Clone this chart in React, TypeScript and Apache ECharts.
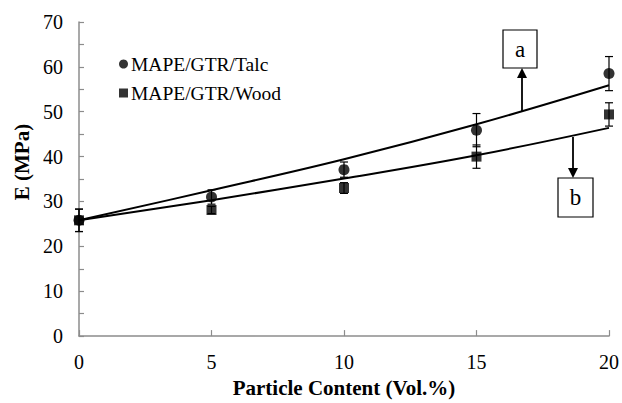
import React, { useEffect, useRef } from "react";
import * as echarts from "echarts";

const xTicks = [0, 5, 10, 15, 20];
const talcValues = [25.8, 31.0, 37.1, 45.9, 58.5];
const talcErr = [2.5, 1.6, 1.7, 3.7, 3.8];
const woodValues = [25.8, 28.1, 33.0, 40.0, 49.4];
const woodErr = [2.5, 0.8, 1.2, 2.6, 2.6];
const talcTrend = [25.8, 32.5, 39.4, 47.2, 55.9];
const woodTrend = [25.8, 30.3, 35.1, 40.3, 46.4];

const FONT = "Liberation Serif";

function errorSeries(vals: number[], errs: number[]) {
  return {
    type: "custom",
    silent: true,
    z: 3,
    data: xTicks.map((x, i) => [x, vals[i] - errs[i], vals[i] + errs[i]]),
    encode: { x: 0, y: [1, 2] },
    renderItem: (params: any, api: any) => {
      const x = api.value(0);
      const lo = api.coord([x, api.value(1)]);
      const hi = api.coord([x, api.value(2)]);
      const w = 4;
      const st = { stroke: "#000", lineWidth: 1.2 };
      return {
        type: "group",
        children: [
          { type: "line", shape: { x1: lo[0], y1: lo[1], x2: hi[0], y2: hi[1] }, style: st },
          { type: "line", shape: { x1: lo[0] - w, y1: lo[1], x2: lo[0] + w, y2: lo[1] }, style: st },
          { type: "line", shape: { x1: hi[0] - w, y1: hi[1], x2: hi[0] + w, y2: hi[1] }, style: st },
        ],
      };
    },
  };
}

export default function App() {
  const ref = useRef<HTMLDivElement>(null);
  useEffect(() => {
    const chart = echarts.init(ref.current!, null, { renderer: "svg" });
    const axisLine = { lineStyle: { color: "#8c8c8c", width: 1.5 } };
    chart.setOption({
      animation: false,
      backgroundColor: "#fff",
      textStyle: { fontFamily: FONT },
      grid: { left: 79, right: 13, top: 22, bottom: 64 },
      legend: {
        orient: "vertical",
        left: 114,
        top: 49,
        itemWidth: 9,
        itemHeight: 9,
        itemGap: 9,
        data: [
          { name: "MAPE/GTR/Talc", icon: "circle" },
          { name: "MAPE/GTR/Wood", icon: "rect" },
        ],
        textStyle: { fontFamily: FONT, fontSize: 19.5, color: "#000", padding: [0, 0, 0, -2] },
      },
      xAxis: {
        type: "value",
        min: 0,
        max: 20,
        interval: 5,
        name: "Particle Content (Vol.%)",
        nameLocation: "middle",
        nameGap: 35,
        nameTextStyle: { fontFamily: FONT, fontSize: 21, fontWeight: "bold", color: "#000" },
        axisLine,
        axisTick: { inside: true, length: 6, lineStyle: { color: "#8c8c8c", width: 1.2 } },
        axisLabel: { fontFamily: FONT, fontSize: 20, color: "#000", margin: 16 },
        splitLine: { show: false },
      },
      yAxis: {
        type: "value",
        min: 0,
        max: 70,
        interval: 5,
        axisLine: { show: true, ...axisLine },
        axisTick: { show: true, inside: true, length: 5, lineStyle: { color: "#8c8c8c", width: 1.2 } },
        axisLabel: {
          fontFamily: FONT,
          fontSize: 20,
          color: "#000",
          margin: 16,
          formatter: (v: number) => (v % 10 === 0 ? String(v) : ""),
        },
        splitLine: { show: false },
      },
      graphic: [
        {
          type: "text",
          x: 22,
          y: 162,
          rotation: Math.PI / 2,
          style: {
            text: "E (MPa)",
            fontFamily: FONT,
            fontSize: 21,
            fontWeight: "bold",
            fill: "#000",
            align: "center",
            verticalAlign: "middle",
          },
        },
        { type: "rect", shape: { x: 503, y: 30, width: 34, height: 38 }, style: { fill: "#fff", stroke: "#000", lineWidth: 1.2 } },
        { type: "text", x: 520, y: 49, style: { text: "a", fontFamily: FONT, fontSize: 23, fill: "#000", align: "center", verticalAlign: "middle" } },
        { type: "line", shape: { x1: 522, y1: 111, x2: 522, y2: 76 }, style: { stroke: "#000", lineWidth: 1.8 } },
        { type: "polygon", shape: { points: [[522, 68], [517, 78], [527, 78]] }, style: { fill: "#000" } },
        { type: "rect", shape: { x: 558, y: 178, width: 35, height: 39 }, style: { fill: "#fff", stroke: "#000", lineWidth: 1.2 } },
        { type: "text", x: 575.5, y: 197.5, style: { text: "b", fontFamily: FONT, fontSize: 23, fill: "#000", align: "center", verticalAlign: "middle" } },
        { type: "line", shape: { x1: 573, y1: 137, x2: 573, y2: 170 }, style: { stroke: "#000", lineWidth: 1.8 } },
        { type: "polygon", shape: { points: [[573, 178], [568, 168], [578, 168]] }, style: { fill: "#000" } },
      ],
      series: [
        {
          type: "line",
          name: "Talc trend",
          data: xTicks.map((x, i) => [x, talcTrend[i]]),
          smooth: 0.4,
          showSymbol: false,
          lineStyle: { color: "#000", width: 2 },
          silent: true,
          z: 2,
        },
        {
          type: "line",
          name: "Wood trend",
          data: xTicks.map((x, i) => [x, woodTrend[i]]),
          smooth: 0.4,
          showSymbol: false,
          lineStyle: { color: "#000", width: 2 },
          silent: true,
          z: 2,
        },
        errorSeries(talcValues, talcErr),
        errorSeries(woodValues, woodErr),
        {
          type: "scatter",
          name: "MAPE/GTR/Talc",
          symbol: "circle",
          symbolSize: 11,
          itemStyle: { color: "#000" },
          data: xTicks.map((x, i) => [x, talcValues[i]]),
          z: 4,
        },
        {
          type: "scatter",
          name: "MAPE/GTR/Wood",
          symbol: "rect",
          symbolSize: 10,
          itemStyle: { color: "#000" },
          data: xTicks.map((x, i) => [x, woodValues[i]]),
          z: 5,
        },
      ],
    });
    return () => chart.dispose();
  }, []);
  return <div ref={ref} style={{ width: 622, height: 403, position: "absolute", left: 0, top: 0 }} />;
}
